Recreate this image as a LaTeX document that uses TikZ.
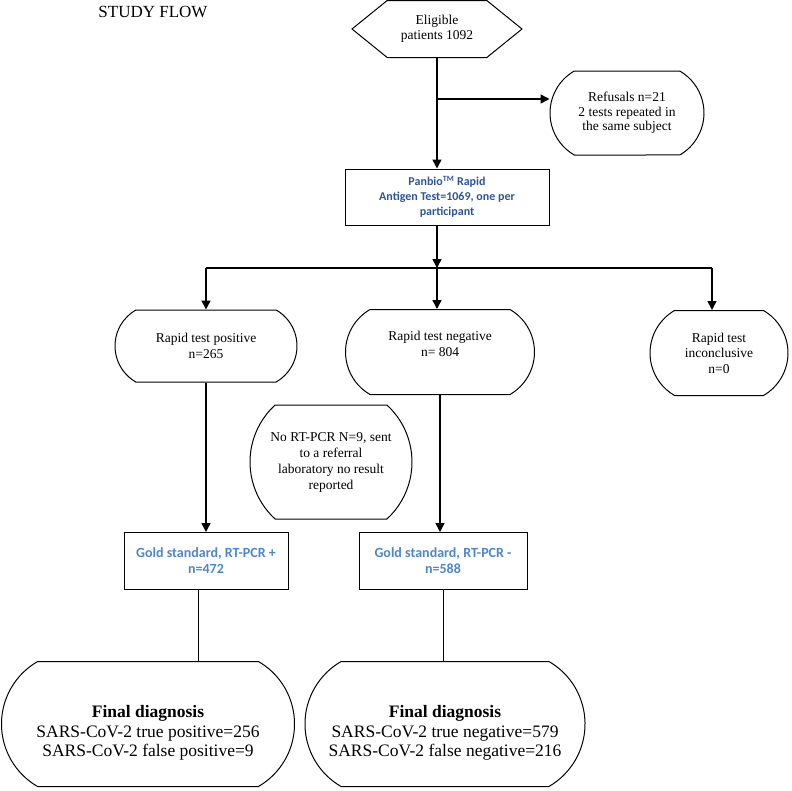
\documentclass[tikz,border=0pt]{standalone}
\usepackage{fontspec}
\setmainfont{Liberation Serif}
\setsansfont{Carlito}
\usetikzlibrary{arrows.meta,positioning,shapes.misc,shapes.symbols}
\definecolor{panblue}{RGB}{47,85,151}
\definecolor{goldblue}{RGB}{79,134,198}
\tikzset{
pill/.style={draw,line width=1pt,rounded rectangle,rounded rectangle arc length=120,inner sep=0pt,align=center,font=\fontsize{13.5}{15.5}\selectfont},
testbox/.style={draw,line width=1pt,rectangle,inner sep=0pt,align=center,font=\sffamily\bfseries\fontsize{12}{15}\selectfont},
arr/.style={-{Triangle[length=9pt,width=9pt]},line width=1.5pt},
}
\begin{document}
\begin{tikzpicture}[x=1pt,y=-1pt]
\useasboundingbox (0,0) rectangle (792,790);
\node (title) at (153,12) {\fontsize{17}{20}\selectfont STUDY FLOW};
\node[draw,line width=1pt,signal,signal to=west and east,signal pointer angle=78,minimum width=170pt,minimum height=57pt,inner sep=0pt,align=center,font=\fontsize{13.5}{14.5}\selectfont] (elig) at (437,29) {Eligible\\patients 1092};
\node[pill,font=\fontsize{13.5}{14.5}\selectfont,minimum width=154pt,minimum height=84pt] (refuse) at (627,113) {Refusals n=21\\2 tests repeated in\\the same subject};
\node[testbox,text=panblue,minimum width=204pt,minimum height=56pt] (panbio) at (447,197) {Panbio\textsuperscript{TM} Rapid\\Antigen Test=1069, one per\\participant};
\node[pill,minimum width=182pt,minimum height=72pt] (pos) at (206,346) {Rapid test positive\\n=265};
\node[pill,minimum width=189pt,minimum height=85pt] (neg) at (440,352) {Rapid test negative\\n= 804\rule[-16pt]{0pt}{16pt}};
\node[pill,minimum width=138pt,minimum height=85pt] (inc) at (719,353) {Rapid test\\inconclusive\\n=0};
\node[pill,font=\fontsize{13.5}{16}\selectfont,rounded rectangle arc length=95,minimum width=162pt,minimum height=114pt] (norun) at (331,462) {No RT-PCR N=9, sent\\to a referral\\laboratory no result\\reported};
\node[testbox,text=goldblue,font=\sffamily\bfseries\fontsize{14}{16}\selectfont,minimum width=164pt,minimum height=57pt] (goldp) at (206,561) {Gold standard, RT-PCR +\\n=472};
\node[testbox,text=goldblue,font=\sffamily\bfseries\fontsize{14}{16}\selectfont,minimum width=168pt,minimum height=57pt] (goldn) at (443,561) {Gold standard, RT-PCR -\\n=588};
\node[pill,font=\fontsize{17.5}{19.5}\selectfont,minimum width=293pt,minimum height=125pt] (finp) at (148,724) {\rule{0pt}{30pt}\textbf{Final diagnosis}\\SARS-CoV-2 true positive=256\\SARS-CoV-2 false positive=9};
\node[pill,font=\fontsize{17.5}{19.5}\selectfont,minimum width=280pt,minimum height=125pt] (finn) at (445,724) {\rule{0pt}{30pt}\textbf{Final diagnosis}\\SARS-CoV-2 true negative=579\\SARS-CoV-2 false negative=216};
% branch points
\coordinate (split) at (437,99);
\coordinate (fork) at (437,268);
\coordinate (forkL) at (206,268);
\coordinate (forkR) at (712,268);
\draw[arr] (elig.south) -- (elig.south |- panbio.north);
\draw[arr] (split) -- (split -| refuse.west);
\draw[arr] (elig.south |- panbio.south) -- (fork);
\draw[line width=1.5pt] (forkL) -- (forkR);
\draw[arr] (forkL) -- (forkL |- pos.north);
\draw[arr] (fork) -- (fork |- neg.north);
\draw[arr] (forkR) -- (forkR |- inc.north);
\draw[arr] (pos.south) -- (goldp.north);
\draw[arr] (neg.south) -- (neg.south |- goldn.north);
\draw[line width=1pt] ([xshift=-8pt]goldp.south) -- ([xshift=-8pt]goldp.south |- finp.north);
\draw[line width=1pt] (goldn.south) -- (goldn.south |- finn.north);
\end{tikzpicture}
\end{document}
